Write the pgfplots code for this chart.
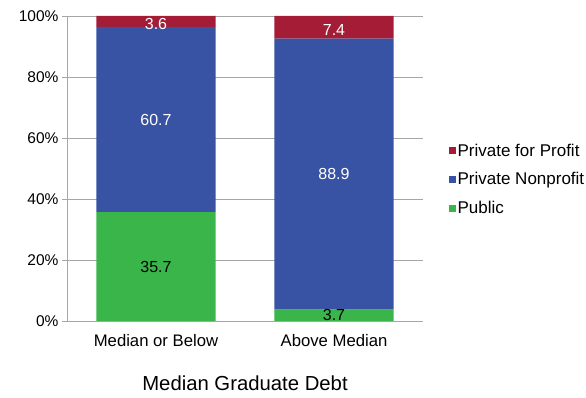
\documentclass[border=0pt]{standalone}
\usepackage{fontspec}
\setmainfont{Liberation Sans}
\usepackage{pgfplots}
\pgfplotsset{compat=1.18}
\definecolor{cprofit}{HTML}{A51C36}
\definecolor{cnon}{HTML}{3953A4}
\definecolor{cpub}{HTML}{39B54A}
\definecolor{gridc}{HTML}{A6A6A6}
\begin{document}
\begin{tikzpicture}
\useasboundingbox (-67pt,-77pt) rectangle (519pt,321pt);
\begin{axis}[
  at={(0,0)}, anchor=south west, scale only axis,
  width=356pt, height=305pt,
  ybar stacked, bar width=0.67,
  xmin=-0.5, xmax=1.5, ymin=0, ymax=100,
  axis lines=left,
  axis line style={gridc, line width=0.9pt, -},
  xtick={0,1}, xticklabels={Median or Below, Above Median},
  major x tick style={draw=none},
  xticklabel style={yshift=-5pt, font=\fontsize{16.7}{20}\selectfont},
  extra x ticks={-0.5,0.5,1.5}, extra x tick labels={},
  extra x tick style={major tick style={draw=gridc, line width=0.9pt}, major tick length=5pt, grid=none},
  ytick={0,20,40,60,80,100},
  yticklabel={\pgfmathprintnumber{\tick}\%},
  /pgf/number format/assume math mode=true,
  ymajorgrids, grid style={gridc, line width=0.9pt},
  major y tick style={draw=gridc, line width=0.9pt},
  tick align=outside, major tick length=5pt,
  yticklabel style={font=\fontsize{15.5}{19}\selectfont, text=black},
  xlabel={Median Graduate Debt},
  xlabel style={font=\fontsize{20.3}{24}\selectfont, yshift=-12pt},
  reverse legend,
  legend style={draw=none, fill=none, at={(1.063,0.595)}, anchor=north west,
    font=\fontsize{17}{21}\selectfont, row sep=11pt,
    legend cell align=left,
    /tikz/every even column/.append style={column sep=6pt}},
  legend image code/.code={\fill[#1] (0pt,-3.5pt) rectangle (7pt,3.5pt);},
  nodes near coords,
  point meta=explicit symbolic,
  every node near coord/.append style={anchor=center,
    font=\fontsize{16}{19}\selectfont},
]
\addplot[fill=cpub, draw=none, every node near coord/.append style={text=black}]
  coordinates {(0,35.7) [35.7] (1,3.7) [3.7]};
\addlegendentry{Public}
\addplot[fill=cnon, draw=none, every node near coord/.append style={text=white}]
  coordinates {(0,60.7) [60.7] (1,88.9) [88.9]};
\addlegendentry{Private Nonprofit}
\addplot[fill=cprofit, draw=none, every node near coord/.append style={text=white, yshift=-2.5pt}]
  coordinates {(0,3.6) [3.6] (1,7.4) [7.4]};
\addlegendentry{Private for Profit}
\end{axis}
\end{tikzpicture}
\end{document}
